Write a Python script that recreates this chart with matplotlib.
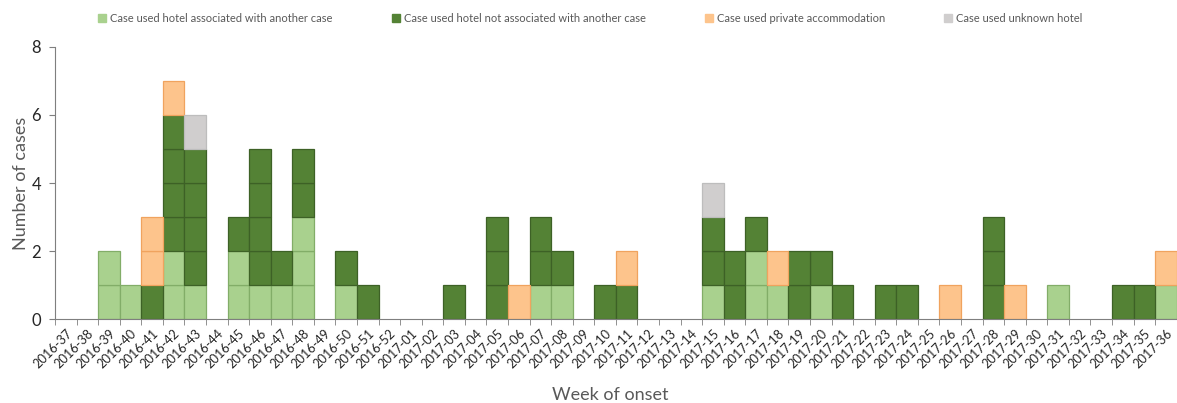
import matplotlib.pyplot as plt
import numpy as np

weeks = (
    [f"2016-{w}" for w in range(37, 53)]
    + [f"2017-{w:02d}" for w in range(1, 37)]
)

# cases per week, one list per category (stacked bottom to top)
hotel_associated = [
    0, 0, 2, 1, 0, 2, 1, 0, 2, 1, 1, 3, 0, 1, 0, 0,
    0, 0, 0, 0, 0, 0, 1, 1, 0, 0, 0, 0, 0, 0, 1, 0, 2, 1, 0, 1,
    0, 0, 0, 0, 0, 0, 0, 0, 0, 0, 1, 0, 0, 0, 0, 1,
]
hotel_not_associated = [
    0, 0, 0, 0, 1, 4, 4, 0, 1, 4, 1, 2, 0, 1, 1, 0,
    0, 0, 1, 0, 3, 0, 2, 1, 0, 1, 1, 0, 0, 0, 2, 2, 1, 0, 2, 1,
    1, 0, 1, 1, 0, 0, 0, 3, 0, 0, 0, 0, 0, 1, 1, 0,
]
private_accommodation = [
    0, 0, 0, 0, 2, 1, 0, 0, 0, 0, 0, 0, 0, 0, 0, 0,
    0, 0, 0, 0, 0, 1, 0, 0, 0, 0, 1, 0, 0, 0, 0, 0, 0, 1, 0, 0,
    0, 0, 0, 0, 0, 1, 0, 0, 1, 0, 0, 0, 0, 0, 0, 1,
]
unknown_hotel = [
    0, 0, 0, 0, 0, 0, 1, 0, 0, 0, 0, 0, 0, 0, 0, 0,
    0, 0, 0, 0, 0, 0, 0, 0, 0, 0, 0, 0, 0, 0, 1, 0, 0, 0, 0, 0,
    0, 0, 0, 0, 0, 0, 0, 0, 0, 0, 0, 0, 0, 0, 0, 0,
]

series = [
    ("Case used hotel associated with another case", hotel_associated,
     "#a9d18e", "#82ad68"),
    ("Case used hotel not associated with another case", hotel_not_associated,
     "#548235", "#3d6126"),
    ("Case used private accommodation", private_accommodation,
     "#fdc48c", "#f0a35e"),
    ("Case used unknown hotel", unknown_hotel,
     "#d0cece", "#bdbdbd"),
]

plt.rcParams["font.family"] = ["Lato", "DejaVu Sans"]

figure = plt.figure(figsize=(11.77, 4.03), dpi=100)
axis = figure.add_axes([0.0467, 0.2084, 0.953, 0.675])

x = np.arange(len(weeks))
bottom = np.zeros(len(weeks))

handles = []
for label, counts, face, edge in series:
    counts = np.array(counts)
    # one cell per case
    for level in range(int(counts.max())):
        mask = counts > level
        axis.bar(
            x[mask],
            1,
            bottom=bottom[mask] + level,
            width=1.0,
            color=face,
            edgecolor=edge,
            linewidth=0.9,
        )
    bottom += counts
    handles.append(plt.Rectangle((0, 0), 1, 1, color=face))

axis.set_xlim(-0.5, len(weeks) - 0.5)
axis.set_ylim(0, 8)
axis.set_yticks([0, 2, 4, 6, 8])

axis.set_xticks(x)
axis.set_xticklabels(
    weeks,
    rotation=45,
    ha="right",
    va="top",
    rotation_mode="anchor",
    fontsize=9.2,
    color="#262626",
)
axis.set_xticks(np.arange(-0.5, len(weeks)), minor=True)
axis.tick_params(axis="x", which="major", length=0, pad=6)
axis.tick_params(axis="x", which="minor", length=4, color="#7f7f7f")
axis.tick_params(axis="y", length=4, color="#7f7f7f", labelsize=12,
                 labelcolor="#262626", pad=6)

for side in ("top", "right"):
    axis.spines[side].set_visible(False)
for side in ("left", "bottom"):
    axis.spines[side].set_color("#7f7f7f")

axis.set_ylabel("Number of cases", fontsize=13, color="#595959", labelpad=2)
axis.set_xlabel("Week of onset", fontsize=13, color="#595959", va="center")
axis.xaxis.set_label_coords(0.495, -0.28)

figure.legend(
    handles,
    [s[0] for s in series],
    loc="center left",
    bbox_to_anchor=(0.075, 0.955),
    ncol=4,
    frameon=False,
    fontsize=8,
    labelcolor="#595959",
    handlelength=0.7,
    handleheight=0.7,
    handletextpad=0.4,
    columnspacing=5.3,
)

figure.savefig("out.png", dpi=100)
